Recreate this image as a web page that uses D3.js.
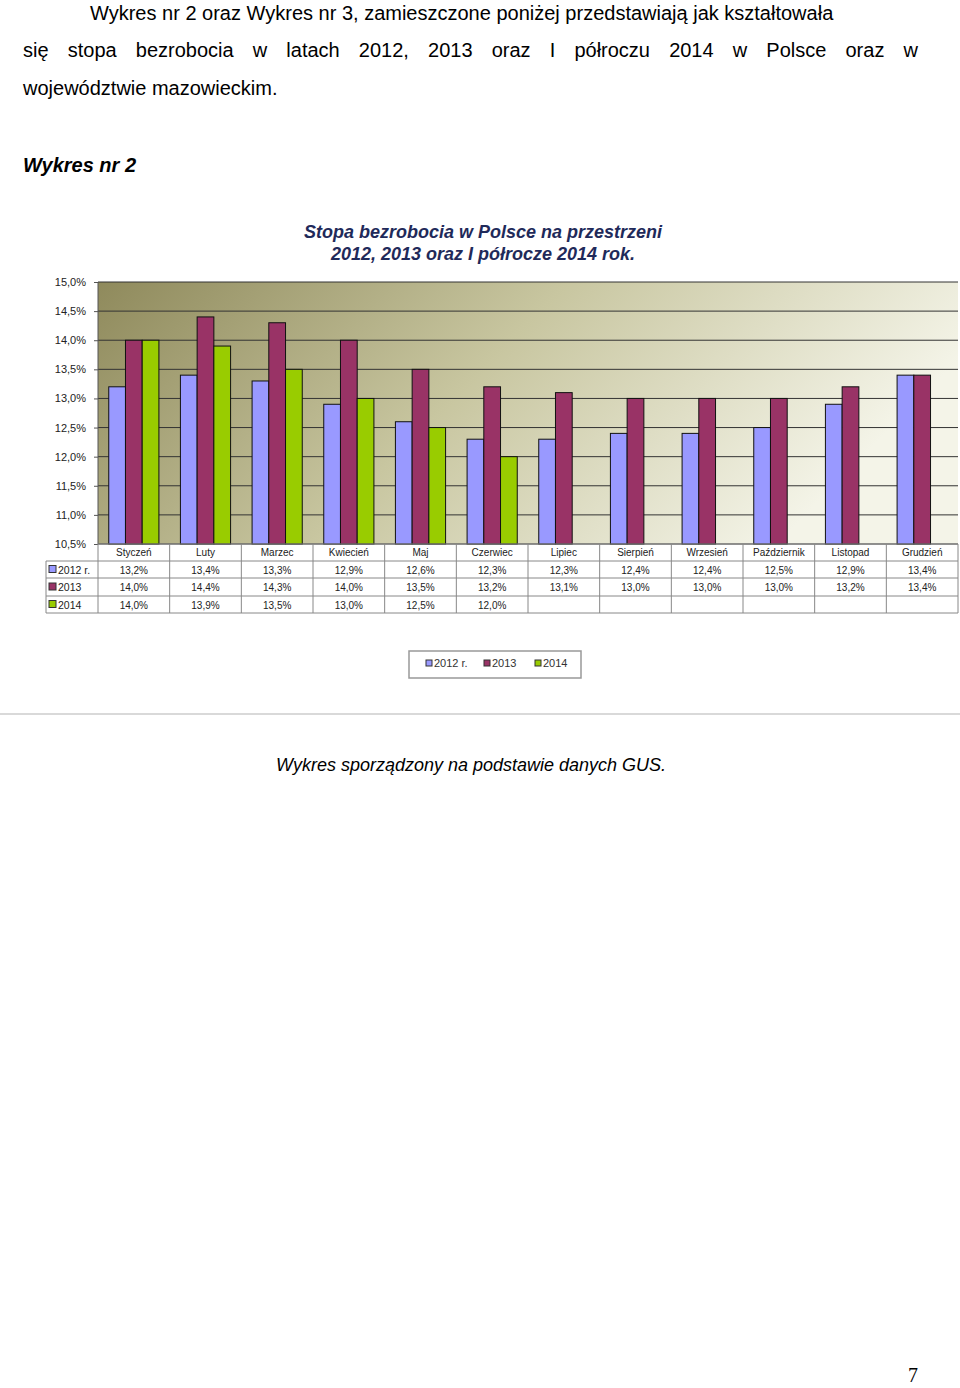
<!DOCTYPE html>
<html><head><meta charset="utf-8">
<script src="https://cdn.jsdelivr.net/npm/d3@7"></script>
<style>body{margin:0;background:#fff}svg{display:block}</style>
</head><body>
<svg id="c" width="960" height="1388"></svg>
<script>
const months=["Styczeń","Luty","Marzec","Kwiecień","Maj","Czerwiec","Lipiec","Sierpień","Wrzesień","Październik","Listopad","Grudzień"];
const seriesNames=["2012 r.","2013","2014"];
const v2012=[13.2,13.4,13.3,12.9,12.6,12.3,12.3,12.4,12.4,12.5,12.9,13.4];
const v2013=[14.0,14.4,14.3,14.0,13.5,13.2,13.1,13.0,13.0,13.0,13.2,13.4];
const v2014=[14.0,13.9,13.5,13.0,12.5,12.0];
const yTicks=[10.5,11.0,11.5,12.0,12.5,13.0,13.5,14.0,14.5,15.0];
const colors=["#9999ff","#993366","#99cc00"];
const data=[v2012,v2013,v2014];
const fmt=v=>v.toFixed(1).replace(".",",")+"%";

const svg=d3.select("#c");
const F="Liberation Sans, Arial, sans-serif";
const para=[
 {y:20,t:"Wykres nr 2 oraz Wykres nr 3, zamieszczone poniżej przedstawiają jak kształtowała",x:90,j:false},
 {y:57,t:"się stopa bezrobocia w latach 2012, 2013 oraz I półroczu 2014 w Polsce oraz w",x:23,j:true},
 {y:95,t:"województwie mazowieckim.",x:23,j:false}];
para.forEach(p=>{
  if(p.j){
    const words=p.t.split(" ");
    const g=svg.append("g");
    const ts=words.map(w=>g.append("text").attr("y",p.y).attr("font-family",F).attr("font-size",20).attr("fill","#000").text(w));
    const ws=ts.map(t=>t.node().getComputedTextLength());
    const tot=ws.reduce((a,b)=>a+b,0);
    const gap=(918-p.x-tot)/(words.length-1);
    let x=p.x; ts.forEach((t,i)=>{t.attr("x",x);x+=ws[i]+gap;});
  } else svg.append("text").attr("x",p.x).attr("y",p.y).attr("font-family",F).attr("font-size",20).text(p.t);
});
svg.append("text").attr("x",23).attr("y",172).attr("font-family",F).attr("font-size",20).attr("font-weight","bold").attr("font-style","italic").text("Wykres nr 2");

[["Stopa bezrobocia w Polsce na przestrzeni",238],["2012, 2013 oraz I półrocze  2014 rok.",260]].forEach(([t,y])=>
 svg.append("text").attr("x",483).attr("y",y).attr("text-anchor","middle").attr("font-family",F).attr("font-size",18).attr("font-weight","bold").attr("font-style","italic").attr("fill","#1f2a5a").text(t));

const L=98,R=958,T=282,B=544;
const x=d3.scaleBand().domain(months).range([L,R]);
const y=d3.scaleLinear().domain([10.5,15]).range([B,T]);
const defs=svg.append("defs");
const gr=defs.append("linearGradient").attr("id","bg").attr("x1","0").attr("x2","1").attr("y1","0").attr("y2","0.3");
gr.append("stop").attr("offset","0").attr("stop-color","#8f8a5c");
gr.append("stop").attr("offset","0.5").attr("stop-color","#c8c6a0");
gr.append("stop").attr("offset","1").attr("stop-color","#f4f4e8");
svg.append("rect").attr("x",L).attr("y",T).attr("width",R-L).attr("height",B-T).attr("fill","url(#bg)");
svg.append("g").selectAll("line").data(yTicks).join("line").attr("x1",L).attr("x2",R).attr("y1",d=>y(d)).attr("y2",d=>y(d)).attr("stroke","#333").attr("stroke-width",1);
svg.append("line").attr("x1",L).attr("x2",L).attr("y1",T).attr("y2",B).attr("stroke","#555");
const ax=svg.append("g").attr("transform",`translate(${L},0)`).call(d3.axisLeft(y).tickValues(yTicks).tickFormat(d=>d.toFixed(1).replace(".",",")+"%").tickSize(4));
ax.select(".domain").remove();
ax.selectAll("text").attr("font-family",F).attr("font-size",11).attr("fill","#222").attr("x",-12);
ax.selectAll("line").attr("stroke","#555");

const bw=x.bandwidth();
const sub=d3.scaleBand().domain([0,1,2]).range([bw*0.15,bw*0.85]);
data.forEach((arr,si)=>{
  svg.append("g").selectAll("rect").data(arr).join("rect")
   .attr("x",(d,i)=>x(months[i])+sub(si)).attr("width",sub.bandwidth())
   .attr("y",d=>y(d)).attr("height",d=>B-y(d))
   .attr("fill",colors[si]).attr("stroke","#111").attr("stroke-width",1);
});

const TL=46, rows=[544,561,578,596,613];
const tg=svg.append("g").attr("stroke","#888").attr("fill","none");
rows.slice(1).forEach(r=>tg.append("line").attr("x1",TL).attr("x2",R).attr("y1",r).attr("y2",r));
tg.append("line").attr("x1",L).attr("x2",R).attr("y1",B).attr("y2",B);
tg.append("line").attr("x1",TL).attr("x2",TL).attr("y1",561).attr("y2",613);
months.forEach(m=>tg.append("line").attr("x1",x(m)).attr("x2",x(m)).attr("y1",B).attr("y2",613));
tg.append("line").attr("x1",R).attr("x2",R).attr("y1",B).attr("y2",613);
svg.append("g").selectAll("text").data(months).join("text").attr("x",d=>x(d)+bw/2).attr("y",556).attr("text-anchor","middle").attr("font-family",F).attr("font-size",10).attr("fill","#222").text(d=>d);
data.forEach((arr,si)=>{
  const cy=(rows[si+1]+rows[si+2])/2+4;
  svg.append("rect").attr("x",49).attr("y",cy-8).attr("width",7).attr("height",7).attr("fill",colors[si]).attr("stroke","#333");
  svg.append("text").attr("x",58).attr("y",cy).attr("font-family",F).attr("font-size",10.5).attr("fill","#222").text(seriesNames[si]);
  svg.append("g").selectAll("text").data(arr).join("text").attr("x",(d,i)=>x(months[i])+bw/2).attr("y",cy).attr("text-anchor","middle").attr("font-family",F).attr("font-size",10).attr("fill","#222").text(fmt);
});

svg.append("rect").attr("x",409).attr("y",651).attr("width",172).attr("height",27).attr("fill","#fff").attr("stroke","#999").attr("stroke-width",1.5);
const lx=[426,484,535];
seriesNames.forEach((s,i)=>{
  svg.append("rect").attr("x",lx[i]).attr("y",660).attr("width",6).attr("height",6).attr("fill",colors[i]).attr("stroke","#333");
  svg.append("text").attr("x",lx[i]+8).attr("y",667).attr("font-family",F).attr("font-size",11).attr("fill","#333").text(s);
});
svg.append("line").attr("x1",0).attr("x2",960).attr("y1",714).attr("y2",714).attr("stroke","#ccc").attr("stroke-width",1.5);

svg.append("text").attr("x",471).attr("y",771).attr("text-anchor","middle").attr("font-family",F).attr("font-size",18).attr("font-style","italic").text("Wykres sporządzony na podstawie danych GUS.");
svg.append("text").attr("x",918).attr("y",1382).attr("text-anchor","end").attr("font-family","Liberation Serif, serif").attr("font-size",20).text("7");
</script>
</body></html>
